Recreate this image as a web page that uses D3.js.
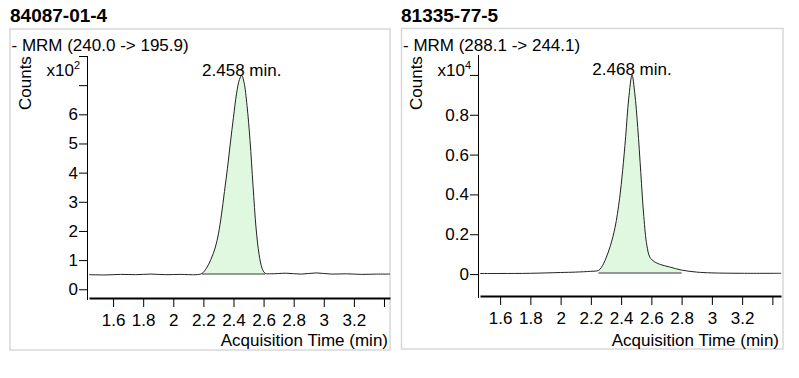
<!DOCTYPE html>
<html>
<head>
<meta charset="utf-8">
<script src="https://cdn.jsdelivr.net/npm/d3@7"></script>
<style>
  body { margin: 0; background: #fff; }
  svg { font-family: "Liberation Sans", Arial, sans-serif; }
  .axis text { font-size: 17px; fill: #000; }
  .axis path, .axis line { stroke: #000; }
</style>
</head>
<body>
<svg id="chart" width="799" height="378"></svg>
<script>
// compound 1: 84087-01-4, counts x10^2
var leftTimes = [1.44, 1.55, 1.65, 1.75, 1.85, 1.95, 2.05, 2.15, 2.19, 2.22, 2.25, 2.28, 2.30, 2.32,
  2.34, 2.36, 2.38, 2.40, 2.42, 2.44, 2.455, 2.47, 2.49, 2.51, 2.53, 2.55, 2.57, 2.59, 2.61,
  2.65, 2.75, 2.85, 2.95, 3.05, 3.15, 3.25, 3.35, 3.44];
var leftCounts = [0.50, 0.49, 0.51, 0.50, 0.52, 0.50, 0.51, 0.50, 0.54, 0.72, 1.02, 1.45, 1.90, 2.55,
  3.35, 4.15, 5.05, 5.90, 6.70, 7.20, 7.33, 7.10, 6.30, 5.10, 3.55, 2.10, 1.20, 0.72, 0.55,
  0.53, 0.55, 0.52, 0.56, 0.52, 0.53, 0.51, 0.52, 0.52];
var leftYTicks = [0, 1, 2, 3, 4, 5, 6, 7, 8];
var leftYLabels = ['0', '1', '2', '3', '4', '5', '6', '', ''];

// compound 2: 81335-77-5, counts x10^4
var rightTimes = [1.467, 1.6, 1.8, 2.0, 2.1, 2.2, 2.25, 2.27, 2.30, 2.33, 2.36, 2.39, 2.41, 2.43,
  2.45, 2.472, 2.49, 2.51, 2.53, 2.55, 2.57, 2.59, 2.62, 2.66, 2.72, 2.80, 2.90, 3.0, 3.2, 3.457];
var rightCounts = [0.003, 0.003, 0.004, 0.008, 0.010, 0.014, 0.018, 0.034, 0.080, 0.145, 0.235, 0.380,
  0.520, 0.690, 0.880, 1.000, 0.910, 0.735, 0.510, 0.290, 0.145, 0.085, 0.062, 0.048, 0.036,
  0.020, 0.010, 0.006, 0.004, 0.004];
var rightYTicks = [0, 0.2, 0.4, 0.6, 0.8, 1.0];
var rightYLabels = ['0', '0.2', '0.4', '0.6', '0.8', ''];

var xTicks = [1.6, 1.8, 2, 2.2, 2.4, 2.6, 2.8, 3, 3.2, 3.4];
var xLabels = ['1.6', '1.8', '2', '2.2', '2.4', '2.6', '2.8', '3', '3.2', ''];

var panels = [
  {
    title: '84087-01-4', mrm: '- MRM (240.0 -> 195.9)', exp: '2',
    times: leftTimes, counts: leftCounts, yTicks: leftYTicks, yLabels: leftYLabels,
    peakTime: 2.455, peakLabel: '2.458 min.', intStart: 2.19, intEnd: 2.61, intBase: 0.52,
    left: 10, box: [10, 29, 380, 321],
    xDomain: [1.44, 3.44], xRange: [89, 390], yAxisX: 87, xAxisY: 298,
    yDomain: [-0.3, 8.0], yRange: [298, 56]
  },
  {
    title: '81335-77-5', mrm: '- MRM (288.1 -> 244.1)', exp: '4',
    times: rightTimes, counts: rightCounts, yTicks: rightYTicks, yLabels: rightYLabels,
    peakTime: 2.472, peakLabel: '2.468 min.', intStart: 2.25, intEnd: 2.80, intBase: 0.005,
    left: 401, box: [401.5, 28.5, 381.5, 320.5],
    xDomain: [1.467, 3.457], xRange: [480, 781], yAxisX: 478, xAxisY: 296,
    yDomain: [-0.11, 1.1], yRange: [296, 55]
  }
];

var svg = d3.select('#chart');

panels.forEach(function(p) {
  var x = d3.scaleLinear().domain(p.xDomain).range(p.xRange);
  var y = d3.scaleLinear().domain(p.yDomain).range(p.yRange);
  var data = p.times.map(function(t, i) { return { t: t, v: p.counts[i] }; });

  svg.append('text')
    .attr('x', p.left).attr('y', 22)
    .attr('font-size', '19px').attr('font-weight', 'bold')
    .text(p.title);

  svg.append('rect')
    .attr('x', p.box[0]).attr('y', p.box[1])
    .attr('width', p.box[2]).attr('height', p.box[3])
    .attr('fill', 'none').attr('stroke', '#d8d8d8').attr('stroke-width', 1.5);

  svg.append('text')
    .attr('x', p.box[0] + 1.5).attr('y', 51)
    .attr('font-size', '17px')
    .text(p.mrm);

  // integrated peak area
  var peak = data.filter(function(d) { return d.t >= p.intStart && d.t <= p.intEnd; });
  var area = d3.area()
    .curve(d3.curveCatmullRom.alpha(0.5))
    .x(function(d) { return x(d.t); })
    .y0(y(p.intBase))
    .y1(function(d) { return y(d.v); });
  svg.append('path')
    .datum(peak)
    .attr('d', area)
    .attr('fill', '#e0f8e0');
  svg.append('line')
    .attr('x1', x(p.intStart)).attr('x2', x(p.intEnd))
    .attr('y1', y(p.intBase)).attr('y2', y(p.intBase))
    .attr('stroke', '#777').attr('stroke-width', 1.5);

  var line = d3.line()
    .curve(d3.curveCatmullRom.alpha(0.5))
    .x(function(d) { return x(d.t); })
    .y(function(d) { return y(d.v); });
  svg.append('path')
    .datum(data)
    .attr('d', line)
    .attr('fill', 'none')
    .attr('stroke', '#222')
    .attr('stroke-width', 1);

  // axes
  var xAxis = d3.axisBottom(x)
    .tickValues(xTicks)
    .tickFormat(function(d, i) { return xLabels[i]; })
    .tickSize(9).tickSizeOuter(0).tickPadding(7);
  var gx = svg.append('g')
    .attr('class', 'axis')
    .attr('transform', 'translate(0,' + p.xAxisY + ')')
    .call(xAxis);
  gx.select('.domain').attr('stroke', '#666').attr('stroke-width', 2);

  var yAxis = d3.axisLeft(y)
    .tickValues(p.yTicks)
    .tickFormat(function(d, i) { return p.yLabels[i]; })
    .tickSize(8).tickSizeOuter(0).tickPadding(1);
  svg.append('g')
    .attr('class', 'axis')
    .attr('transform', 'translate(' + p.yAxisX + ',0)')
    .call(yAxis)
    .select('.domain')
    .attr('d', 'M0.5,' + p.yRange[1] + 'V' + (p.yRange[0] + 2));

  svg.append('text')
    .attr('x', p.xRange[1] - 2).attr('y', 346)
    .attr('font-size', '17px').attr('text-anchor', 'end')
    .text('Acquisition Time (min)');

  svg.append('text')
    .attr('transform', 'translate(' + (p.left + 21) + ',110) rotate(-90)')
    .attr('font-size', '17px')
    .text('Counts');

  var mult = svg.append('text')
    .attr('x', p.yAxisX - 7).attr('y', 76)
    .attr('font-size', '17px').attr('text-anchor', 'end');
  mult.append('tspan').text('x10');
  mult.append('tspan').attr('font-size', '11px').attr('dy', -7).text(p.exp);

  svg.append('text')
    .attr('x', x(p.peakTime)).attr('y', y(d3.max(p.counts)))
    .attr('font-size', '17px').attr('text-anchor', 'middle')
    .text(p.peakLabel);
});
</script>
</body>
</html>
